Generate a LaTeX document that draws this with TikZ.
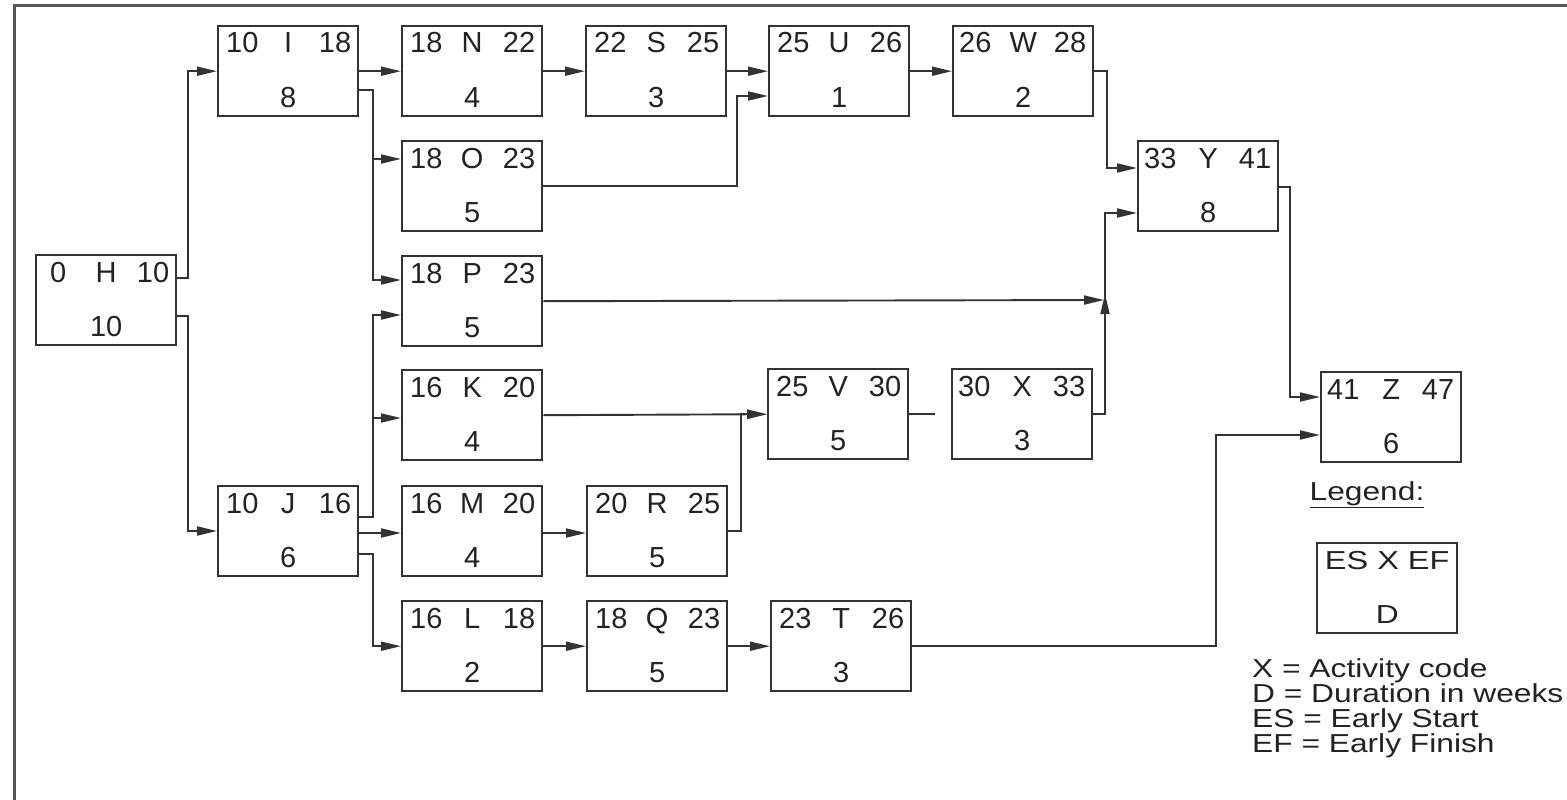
\documentclass[tikz,border=0pt]{standalone}
\usepackage{fontspec}
\usepackage{graphicx}
\setmainfont{Liberation Sans}
\usetikzlibrary{arrows.meta}
\definecolor{boxc}{HTML}{333333}
\definecolor{linec}{HTML}{333333}
\definecolor{txtc}{HTML}{222222}
\definecolor{framec}{HTML}{555555}
\newcommand\actbox[8][9pt]{%
  \node[act] (#2) at (#3,#4) {};
  \node[lbl, anchor=base west] (#2-es) at ([xshift=#1,yshift=-28pt]#2.north west) {#5};
  \node[lbl, anchor=base] (#2-code) at ([yshift=-28pt]#2.north) {#6};
  \node[lbl, anchor=base east] (#2-ef) at ([xshift=-8pt,yshift=-28pt]#2.north east) {#7};
  \node[lbl, anchor=base] (#2-d) at ([yshift=-82pt]#2.north) {#8};
}
\newcommand\wide[1]{\scalebox{1.22}[1]{#1}}
\begin{document}
\begin{tikzpicture}[x=1pt,y=-1pt,
  act/.style={draw=boxc, line width=2.4pt, rectangle, minimum width=140pt, minimum height=90pt, inner sep=0pt, anchor=north west},
  lbl/.style={inner sep=0pt, font=\fontsize{29}{33}\selectfont, text=txtc},
  leg/.style={inner sep=0pt, font=\fontsize{26}{30}\selectfont, text=txtc},
  conn/.style={draw=linec, line width=1.9pt, -{Triangle[length=20pt,width=9pt]}},
  wire/.style={draw=linec, line width=1.9pt}]
\useasboundingbox (0,0) rectangle (1567,800);
\draw[framec, line width=3pt] (1567,6) -- (14,6) -- (14,800);

% activities
\actbox[15pt]{H}{35}{254}{0}{H}{10}{10}
\actbox{I}{217}{25}{10}{I}{18}{8}
\actbox{J}{217}{485}{10}{J}{16}{6}
\actbox{N}{401}{25}{18}{N}{22}{4}
\actbox{O}{401}{140}{18}{O}{23}{5}
\actbox{P}{401}{255}{18}{P}{23}{5}
\actbox{K}{401}{369}{16}{K}{20}{4}
\actbox{M}{401}{485}{16}{M}{20}{4}
\actbox{L}{401}{600}{16}{L}{18}{2}
\actbox{S}{585}{25}{22}{S}{25}{3}
\actbox{R}{586}{485}{20}{R}{25}{5}
\actbox{Q}{586}{600}{18}{Q}{23}{5}
\actbox{U}{768}{25}{25}{U}{26}{1}
\actbox{V}{767}{368}{25}{V}{30}{5}
\actbox{T}{770}{600}{23}{T}{26}{3}
\actbox[7pt]{W}{952}{25}{26}{W}{28}{2}
\actbox[7pt]{X}{951}{368}{30}{X}{33}{3}
\actbox[7pt]{Y}{1137}{140}{33}{Y}{41}{8}
\actbox[7pt]{Z}{1320}{371}{41}{Z}{47}{6}

% connectors
\draw[conn] ([yshift=-24pt]H.north east) -- ++(11,0) |- (I.west);
\draw[conn] ([yshift=-62pt]H.north east) -- ++(11,0) |- ([yshift=-46pt]J.north west);
\draw[conn] (I.east) -- (N.west);
\draw[conn] ([yshift=-65pt]I.north east) -- ++(14,0) |- ([yshift=-19pt]O.north west);
\draw[conn] ([yshift=-65pt]I.north east) -- ++(14,0) |- ([yshift=-25pt]P.north west);
\draw[conn] ([yshift=-32pt]J.north east) -- ++(14,0) |- ([yshift=-60pt]P.north west);
\draw[conn] ([yshift=-32pt]J.north east) -- ++(14,0) |- ([yshift=-49pt]K.north west);
\draw[conn] ([yshift=-48pt]J.north east) -- ([yshift=-48pt]M.north west);
\draw[conn] ([yshift=-69pt]J.north east) -- ++(14,0) |- (L.west);
\draw[conn] (N.east) -- (S.west);
\draw[conn] (S.east) -- (U.west);
\draw[conn] (O.east) -| ([xshift=-31pt,yshift=-71pt]U.north west) -- ([yshift=-71pt]U.north west);
\draw[conn] (U.east) -- (W.west);
\draw[conn] (W.east) -- ++(13,0) |- ([yshift=-28pt]Y.north west);
\coordinate (jn) at (1105,300);
\coordinate (jtip) at (1105,294);
\draw[conn] (P.east) -- ([xshift=-1pt]jn);
\draw[conn] (X.east) -| (jtip);
\draw[conn] (jn) |- ([yshift=-73pt]Y.north west);
\draw[conn] (K.east) -- (V.west);
\draw[conn] (R.east) -- ++(13,0) |- (V.west);
\coordinate (vx) at ([xshift=26pt]V.east);
\draw[wire] (V.east) -- (vx);
\draw[conn] ([yshift=-48pt]M.north east) -- ([yshift=-48pt]R.north west);
\draw[conn] (L.east) -- (Q.west);
\draw[conn] (Q.east) -- (T.west);
\draw[conn] ([yshift=-47pt]Y.north east) -- ++(11,0) |- ([yshift=-26pt]Z.north west);
\draw[conn] (T.east) -| ([xshift=-104pt,yshift=-64pt]Z.north west) -- ([yshift=-64pt]Z.north west);

% legend
\node[leg, anchor=base] (legtitle) at (1367,500) {\wide{\underline{Legend:}}};
\node[act] (LG) at (1316,542) {};
\node[leg, anchor=base] (LG-top) at ([yshift=-27pt]LG.north) {\scalebox{1.25}[1]{ES X EF}};
\node[leg, anchor=base] (LG-d) at ([yshift=-81pt]LG.north) {\wide{D}};
\node[leg, anchor=base west] (lx) at (1252,677) {\wide{X = Activity code}};
\node[leg, anchor=base west] (ld) at (1252,702) {\wide{D = Duration in weeks}};
\node[leg, anchor=base west] (les) at (1252,727) {\wide{ES = Early Start}};
\node[leg, anchor=base west] (lef) at (1252,752) {\wide{EF = Early Finish}};
\end{tikzpicture}
\end{document}
